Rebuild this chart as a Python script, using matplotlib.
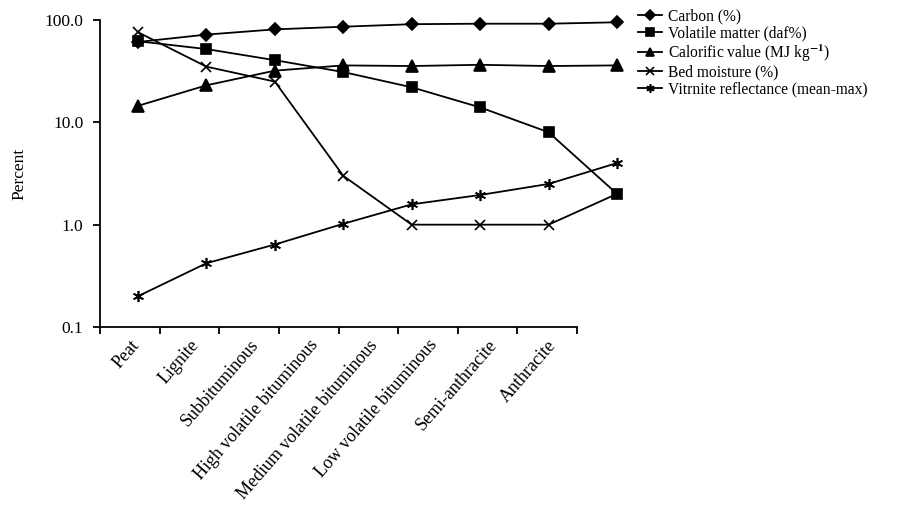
import numpy as np
import matplotlib
matplotlib.use("Agg")
import matplotlib.pyplot as plt
from matplotlib.ticker import FixedLocator, NullLocator, FixedFormatter, NullFormatter

plt.rcParams['font.family'] = ['Liberation Serif', 'DejaVu Serif']
plt.rcParams['mathtext.fontset'] = 'stix'

# Rango de carbón
rangos = ['Peat', 'Lignite', 'Subbituminous', 'High volatile bituminous',
          'Medium volatile bituminous', 'Low volatile bituminous',
          'Semi-anthracite', 'Anthracite']

carbono = [61, 72, 81, 86, 91, 92, 92, 95]
volatiles = [62, 52, 40.5, 31, 22, 14, 8, 2]
calorifico = [14.5, 23, 32, 36, 35.5, 36.5, 35.5, 36]
humedad = [76, 35, 25, 3, 1, 1, 1, 2]
reflectancia = [0.2, 0.42, 0.64, 1.02, 1.58, 1.95, 2.5, 4.0]

series = [
    (carbono, 'D', 6.5, 'Carbon (%)'),
    (volatiles, 's', 7.5, 'Volatile matter (daf%)'),
    (calorifico, '^', 8, r'Calorific value (MJ kg$^{\mathbf{-1}}$)'),
    (humedad, 'x', 7, 'Bed moisture (%)'),
    (reflectancia, (6, 2, 0), 8, 'Vitrnite reflectance (mean-max)'),
]

W, H = 917, 514
fig = plt.figure(figsize=(W / 100, H / 100), dpi=100)

# Ejes visibles: marco, eje log y etiquetas de categorías
x0, x1 = 100, 577
y_top, y_bot = 20, 327
ax = fig.add_axes([x0 / W, 1 - y_bot / H, (x1 - x0) / W, (y_bot - y_top) / H])
ax.set_yscale('log')
ax.set_ylim(0.1, 100)
ax.set_xlim(0, len(rangos))
for lado in ['top', 'right']:
    ax.spines[lado].set_visible(False)
for lado in ['left', 'bottom']:
    ax.spines[lado].set_linewidth(1.3)
ax.yaxis.set_major_locator(FixedLocator([0.1, 1, 10, 100]))
ax.yaxis.set_major_formatter(FixedFormatter(['0.1', '1.0', '10.0', '100.0']))
ax.yaxis.set_minor_locator(NullLocator())
ax.xaxis.set_major_locator(FixedLocator(np.arange(len(rangos) + 1)))
ax.xaxis.set_major_formatter(NullFormatter())
ax.xaxis.set_minor_locator(FixedLocator(np.arange(len(rangos)) + 0.5))
ax.xaxis.set_minor_formatter(FixedFormatter(rangos))
ax.tick_params(axis='both', which='major', direction='out', length=5, width=1.3,
               labelsize=12.5, colors='black')
ax.tick_params(axis='y', which='major', pad=7)
ax.tick_params(axis='x', which='minor', length=0, pad=7)
for lab in ax.get_xticklabels(minor=True):
    lab.set_rotation(49)
    lab.set_ha('right')
    lab.set_va('top')
    lab.set_rotation_mode('anchor')
    lab.set_fontsize(13)
ax.set_ylabel('Percent', fontsize=12.5, labelpad=12)

# Ejes de datos: misma escala vertical, distinto espaciado horizontal
d0, d1 = 138, 617
paso = (d1 - d0) / (len(rangos) - 1)
izq = d0 - paso / 2
ax2 = fig.add_axes([izq / W, 1 - y_bot / H, paso * len(rangos) / W, (y_bot - y_top) / H])
ax2.set_yscale('log')
ax2.set_ylim(0.1, 100)
ax2.set_xlim(-0.5, len(rangos) - 0.5)
ax2.axis('off')
ax2.patch.set_alpha(0)

xs = np.arange(len(rangos))
for valores, marcador, tam, etiqueta in series:
    ax2.plot(xs, valores, color='black', linewidth=1.3, marker=marcador,
             markersize=tam, markerfacecolor='black', markeredgecolor='black',
             markeredgewidth=1.2, label=etiqueta, clip_on=False)

manejadores, etiquetas = ax2.get_legend_handles_labels()
fig.legend(manejadores, etiquetas, loc='upper left',
           bbox_to_anchor=(632 / W, 1 - 2 / H), frameon=False,
           fontsize=11.2, labelspacing=0.07, handlelength=1.5,
           handletextpad=0.4, markerscale=0.75, borderaxespad=0)

fig.savefig('out.png', dpi=100)
